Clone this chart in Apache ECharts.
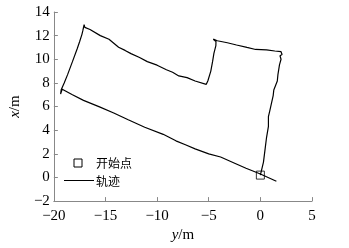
<!DOCTYPE html>
<html><head><meta charset="utf-8">
<script src="https://cdn.jsdelivr.net/npm/echarts@6/dist/echarts.min.js"></script>
<style>html,body{margin:0;padding:0;background:#fff}#c{width:349px;height:248px}</style>
</head><body><div id="c"></div>
<script>
// trajectory points: [y/m, x/m]
var trackY = [0.0, 0.3, 0.46, 0.6, 0.78, 0.78, 0.9, 1.24, 1.3, 1.64, 1.7, 1.85, 2.0, 1.9, 2.1, 2.0,
  1.4, 1.4, 0.6, 0.6, -0.46, -1.3, -1.3, -2.31, -3.2, -3.2, -4.17, -4.56, -4.3, -4.31, -4.5, -4.63, -4.8, -5.09, -5.24,
  -6.32, -6.32, -7.1, -7.1, -7.9, -8.5, -8.5, -9.1, -10.0, -10.0, -10.95, -11.7, -11.7, -12.53, -13.1, -13.1, -13.73, -14.66, -15.5, -15.5, -16.5, -17.0, -17.07,
  -17.2, -17.28, -17.5, -17.74, -18.2, -18.67, -19.0, -19.29, -19.35, -19.19,
  -18.2, -18.2, -17.13, -15.58, -14.2, -14.2, -12.8, -11.2, -11.2, -9.41, -8.18, -7.2, -7.2, -6.32, -5.0, -5.0, -3.85, -2.6, -2.6, -1.39, -0.6, -0.6, 0.0, 1.55];
var trackX = [0.2, 1.3, 2.42, 3.4, 4.33, 5.15, 5.6, 6.93, 7.4, 8.16, 8.7, 9.52, 10.0, 10.3, 10.4, 10.64,
  10.7, 10.75, 10.8, 10.9, 10.83, 11.0, 11.12, 11.21, 11.4, 11.5, 11.57, 11.7, 11.5, 11.16, 10.5, 9.8, 9.0, 8.16, 7.88,
  8.16, 8.3, 8.45, 8.6, 8.59, 8.9, 9.05, 9.11, 9.5, 9.65, 9.8, 10.15, 10.3, 10.48, 10.75, 10.9, 11.02, 11.7, 12.0, 12.15, 12.52, 12.7, 12.93,
  12.4, 12.11, 11.5, 10.89, 9.8, 8.7, 8.0, 7.42, 7.06, 7.47,
  7.0, 6.85, 6.52, 5.97, 5.45, 5.3, 4.88, 4.25, 4.1, 3.65, 3.1, 2.75, 2.6, 2.42, 2.0, 1.85, 1.73, 1.25, 1.1, 0.78, 0.5, 0.4, 0.29, -0.32];
var startY = [0.0];
var startX = [0.2];
var xTicks = [-20, -15, -10, -5, 0, 5];
var yTicks = [-2, 0, 2, 4, 6, 8, 10, 12, 14];
var legendNames = ['开始点', '轨迹'];

var track = trackY.map(function (v, i) { return [v, trackX[i]]; });
var start = startY.map(function (v, i) { return [v, startX[i]]; });
var fmt = function (v) { return String(v).replace('-', '\u2212'); };
var serif = '"Liberation Serif", "DejaVu Serif", serif';
var cjk = '"Noto Sans CJK SC", sans-serif';
var chart = echarts.init(document.getElementById('c'), null, { renderer: 'canvas' });
chart.setOption({
  animation: false,
  backgroundColor: '#fff',
  grid: { left: 43, right: 37, top: 12, bottom: 39 },
  xAxis: {
    type: 'value', min: xTicks[0], max: xTicks[xTicks.length - 1], interval: 5,
    name: '{i|y}/m', nameLocation: 'middle', nameGap: 23,
    nameTextStyle: { fontFamily: serif, fontSize: 15, color: '#000', rich: { i: { fontStyle: 'italic', fontFamily: serif, fontSize: 15 } } },
    axisLine: { onZero: false, lineStyle: { color: '#888', width: 1 } },
    axisTick: { inside: true, length: 4, lineStyle: { color: '#888' } },
    axisLabel: { formatter: fmt, fontFamily: serif, fontSize: 15, color: '#000', margin: 7 },
    splitLine: { show: false }
  },
  yAxis: {
    type: 'value', min: yTicks[0], max: yTicks[yTicks.length - 1], interval: 2,
    name: '{i|x}/m', nameLocation: 'middle', nameGap: 14, nameRotate: 90,
    nameTextStyle: { fontFamily: serif, fontSize: 15, color: '#000', rich: { i: { fontStyle: 'italic', fontFamily: serif, fontSize: 15 } } },
    axisLine: { show: true, onZero: false, lineStyle: { color: '#888', width: 1 } },
    axisTick: { show: true, inside: true, length: 4, lineStyle: { color: '#888' } },
    axisLabel: { formatter: fmt, fontFamily: serif, fontSize: 15, color: '#000', margin: 4 },
    splitLine: { show: false }
  },
  graphic: [
    { type: 'rect', shape: { x: 74, y: 159, width: 8, height: 8 }, style: { fill: '#fff', stroke: '#000', lineWidth: 1 } },
    { type: 'text', x: 96, y: 163, style: { text: legendNames[0], font: '12px ' + cjk, fill: '#000', textVerticalAlign: 'middle' } },
    { type: 'line', shape: { x1: 64, y1: 180.5, x2: 94, y2: 180.5 }, style: { stroke: '#000', lineWidth: 1 } },
    { type: 'text', x: 96, y: 181, style: { text: legendNames[1], font: '12px ' + cjk, fill: '#000', textVerticalAlign: 'middle' } }
  ],
  series: [
    { name: '轨迹', type: 'line', data: track, symbol: 'none', lineStyle: { color: '#000', width: 1.2 }, itemStyle: { color: '#000' } },
    { name: '开始点', type: 'scatter', data: start, symbol: 'rect', symbolSize: 8, itemStyle: { color: 'rgba(0,0,0,0)', borderColor: '#000', borderWidth: 1 }, z: 5 }
  ]
});
</script></body></html>
